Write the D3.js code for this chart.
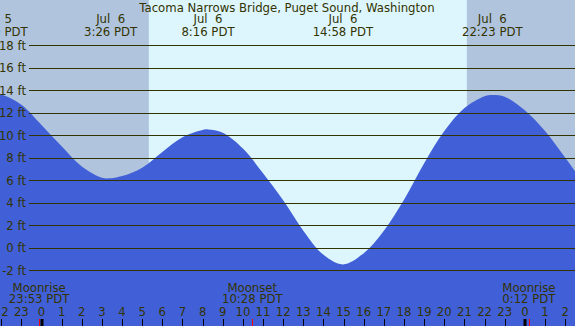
<!DOCTYPE html>
<html>
<head>
<meta charset="utf-8">
<script src="https://cdn.jsdelivr.net/npm/d3@7"></script>
<style>
  body { margin: 0; padding: 0; }
  text { font-family: "DejaVu Sans", sans-serif; font-size: 11.7px; fill: #333300; white-space: pre; }
</style>
</head>
<body>
<div id="myVis"></div>
<script>
var w = 575;
var h = 326;

// tide readings (hours from midnight Jul 6, feet)
var tideHours = [-2.3, -2, -1, 0, 1, 2, 3, 3.433, 4, 5, 6, 7, 8, 8.267, 9, 10, 11, 12, 13, 14, 14.967, 16, 17, 18, 19, 20, 21, 22, 22.383, 23, 24, 25, 26, 27];
var tideFeet  = [13.65, 13.6, 12.7, 10.9, 9.0, 7.2, 6.2, 6.15, 6.35, 7.1, 8.5, 9.8, 10.45, 10.5, 10.2, 8.8, 6.6, 4.2, 1.5, -0.65, -1.5, -0.5, 1.5, 4.25, 7.5, 10.35, 12.4, 13.45, 13.55, 13.4, 12.2, 10.35, 8.0, 5.5];

// high / low labels at the top
var extremeHours = [-2.19, 3.433, 8.267, 14.967, 22.383];
var extremeDays  = ["Jul  5", "Jul  6", "Jul  6", "Jul  6", "Jul  6"];
var extremeTimes = ["21:49 PDT", "3:26 PDT", "8:16 PDT", "14:58 PDT", "22:23 PDT"];

// moon events
var moonHours = [-0.117, 10.467, 24.2];
var moonNames = ["Moonrise", "Moonset", "Moonrise"];
var moonTimes = ["23:53 PDT", "10:28 PDT", "0:12 PDT"];

// sunrise / sunset
var sunrise = 5.33;
var sunset = 21.12;

var feetTicks = [-2, 0, 2, 4, 6, 8, 10, 12, 14, 16, 18];
var hourTicks = d3.range(-2, 27);
var midnights = [0, 24];

var title = "Tacoma Narrows Bridge, Puget Sound, Washington";

var svg = d3.select("#myVis").append("svg")
  .attr("width", w)
  .attr("height", h);

function draw() {
  var x = d3.scaleLinear()
    .domain([-41.5 / 20.14, (w - 41.5) / 20.14])
    .range([0, w]);

  var y = d3.scaleLinear()
    .domain([-2, 18])
    .range([270, 45]);

  // night / day background
  svg.append("rect")
    .attr("x", 0).attr("y", 0)
    .attr("width", w).attr("height", h)
    .attr("fill", "#b0c4de");

  svg.append("rect")
    .attr("x", x(sunrise)).attr("y", 0)
    .attr("width", x(sunset) - x(sunrise)).attr("height", h)
    .attr("fill", "#ddf6fe");

  // tide area
  var pts = tideHours.map(function(d, i) { return [d, tideFeet[i]]; });
  var area = d3.area()
    .x(function(d) { return x(d[0]); })
    .y0(h)
    .y1(function(d) { return y(d[1]); })
    .curve(d3.curveCatmullRom.alpha(0.5));

  svg.append("path")
    .datum(pts)
    .attr("d", area)
    .attr("fill", "#4160d8");

  // grid lines
  svg.selectAll(".grid")
    .data(feetTicks)
    .enter()
    .append("line")
    .attr("x1", 29).attr("x2", w)
    .attr("y1", function(d) { return Math.round(y(d)) + 0.5; })
    .attr("y2", function(d) { return Math.round(y(d)) + 0.5; })
    .attr("stroke", "#333300")
    .attr("stroke-width", 1.2);

  svg.selectAll(".ylab")
    .data(feetTicks)
    .enter()
    .append("text")
    .attr("x", 26)
    .attr("y", function(d) { return y(d) + 4.5; })
    .attr("text-anchor", "end")
    .text(function(d) { return d + " ft"; });

  // title
  svg.append("text")
    .attr("x", 287)
    .attr("y", 11.7)
    .attr("text-anchor", "middle")
    .text(title);

  // high / low labels
  extremeHours.forEach(function(d, i) {
    svg.append("text")
      .attr("x", x(d)).attr("y", 23.3)
      .attr("text-anchor", "middle")
      .text(extremeDays[i]);
    svg.append("text")
      .attr("x", x(d)).attr("y", 35.5)
      .attr("text-anchor", "middle")
      .text(extremeTimes[i]);
  });

  // moon labels
  moonHours.forEach(function(d, i) {
    svg.append("text")
      .attr("x", x(d)).attr("y", 291.7)
      .attr("text-anchor", "middle")
      .text(moonNames[i]);
    svg.append("text")
      .attr("x", x(d)).attr("y", 303.3)
      .attr("text-anchor", "middle")
      .text(moonTimes[i]);
  });

  // hour axis
  svg.selectAll(".hlab")
    .data(hourTicks)
    .enter()
    .append("text")
    .attr("x", function(d) { return x(d); })
    .attr("y", 316)
    .attr("text-anchor", "middle")
    .text(function(d) { return ((d % 24) + 24) % 24; });

  svg.selectAll(".htick")
    .data(hourTicks)
    .enter()
    .append("line")
    .attr("x1", function(d) { return Math.round(x(d)) + 0.5; })
    .attr("x2", function(d) { return Math.round(x(d)) + 0.5; })
    .attr("y1", 319).attr("y2", h)
    .attr("stroke", "#000")
    .attr("stroke-width", 1);

  svg.selectAll(".mid")
    .data(midnights)
    .enter()
    .append("rect")
    .attr("x", function(d) { return Math.round(x(d)) - 1.5; })
    .attr("y", 319)
    .attr("width", 3).attr("height", h - 319)
    .attr("fill", "#000");

  svg.selectAll(".moontick")
    .data(moonHours)
    .enter()
    .append("line")
    .attr("x1", function(d) { return Math.round(x(d)) + 0.5; })
    .attr("x2", function(d) { return Math.round(x(d)) + 0.5; })
    .attr("y1", 319).attr("y2", h)
    .attr("stroke", "#ff0000")
    .attr("stroke-width", 1);
}

draw();
</script>
</body>
</html>
